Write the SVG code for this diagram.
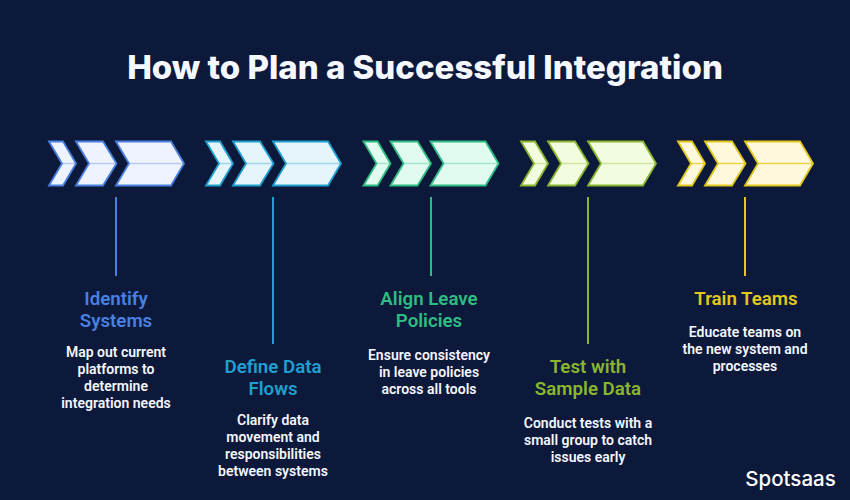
<svg xmlns="http://www.w3.org/2000/svg" width="850" height="500" viewBox="0 0 850 500">
<style>
.title{font:800 33px Inter,"Liberation Sans",sans-serif;fill:#f6f8ff;text-anchor:middle}
.h{font:600 18.700px Roboto,"Liberation Sans",sans-serif;text-anchor:middle}
.b{font:600 14px Roboto,"Liberation Sans",sans-serif;fill:#f4f6fb;text-anchor:middle}
.ch{stroke-width:1.800;stroke-linejoin:miter}
.mid{stroke-width:1.500;opacity:.35;fill:none}
.stem{stroke-width:2;fill:none}
.logo{font:500 20.500px Inter,"Liberation Sans",sans-serif;fill:#fff;text-anchor:middle}
.c1{stroke:#4a80e0;fill:#eef3ff}.t1{fill:#4a80e0}
.c2{stroke:#1f9fd0;fill:#e6f5fc}.t2{fill:#1f9fd0}
.c3{stroke:#2fbc82;fill:#e2fbf0}.t3{fill:#2fbc82}
.c4{stroke:#8ab52e;fill:#f2fde0}.t4{fill:#8ab52e}
.c5{stroke:#e2c81c;fill:#fff8dc}.t5{fill:#e2c81c}
.s1{stroke:#4a80e0}.s2{stroke:#1f9fd0}.s3{stroke:#2fbc82}.s4{stroke:#8ab52e}.s5{stroke:#e2c81c}
</style>
<defs>
<g id="chev">
<polygon points="49,141.500 63,141.500 76,163.500 63,185.500 49,185.500 62,163.500"/>
<polygon points="76,141.500 103,141.500 116.500,163.500 103,185.500 76,185.500 89,163.500"/>
<polygon points="116,141.500 171,141.500 184,163.500 171,185.500 116,185.500 129,163.500"/>
</g>
<g id="mids">
<path d="M62 163.500H76M89 163.500H116.500M129 163.500H184"/>
</g>
</defs>
<rect width="850" height="500" fill="#0c193b"/>
<text class="title" x="425" y="79">How to Plan a Successful Integration</text>
<g id="connectors">
<line class="stem s1" x1="116" y1="197" x2="116" y2="276"/>
<line class="stem s2" x1="273" y1="197" x2="273" y2="344"/>
<line class="stem s3" x1="431" y1="197" x2="431" y2="276"/>
<line class="stem s4" x1="588" y1="197" x2="588" y2="344"/>
<line class="stem s5" x1="745" y1="197" x2="745" y2="276"/>
</g>
<g id="node-1">
<use href="#chev" class="ch c1"/><use href="#mids" class="mid s1"/>
<text class="h t1" x="116" y="305">Identify</text><text class="h t1" x="116" y="327">Systems</text>
<text class="b" x="116" y="357">Map out current</text><text class="b" x="116" y="374">platforms to</text><text class="b" x="116" y="391">determine</text><text class="b" x="116" y="408">integration needs</text>
</g>
<g id="node-2">
<use href="#chev" x="157" class="ch c2"/><use href="#mids" x="157" class="mid s2"/>
<text class="h t2" x="273" y="373">Define Data</text><text class="h t2" x="273" y="395">Flows</text>
<text class="b" x="273" y="425">Clarify data</text><text class="b" x="273" y="442">movement and</text><text class="b" x="273" y="459">responsibilities</text><text class="b" x="273" y="476">between systems</text>
</g>
<g id="node-3">
<use href="#chev" x="314.500" class="ch c3"/><use href="#mids" x="314.500" class="mid s3"/>
<text class="h t3" x="429" y="305">Align Leave</text><text class="h t3" x="429" y="327">Policies</text>
<text class="b" x="429" y="360">Ensure consistency</text><text class="b" x="429" y="377">in leave policies</text><text class="b" x="429" y="394">across all tools</text>
</g>
<g id="node-4">
<use href="#chev" x="472" class="ch c4"/><use href="#mids" x="472" class="mid s4"/>
<text class="h t4" x="588" y="373">Test with</text><text class="h t4" x="588" y="395">Sample Data</text>
<text class="b" x="588" y="428">Conduct tests with a</text><text class="b" x="588" y="445">small group to catch</text><text class="b" x="588" y="462">issues early</text>
</g>
<g id="node-5">
<use href="#chev" x="629" class="ch c5"/><use href="#mids" x="629" class="mid s5" style="opacity:.75"/>
<text class="h t5" x="746" y="305">Train Teams</text>
<text class="b" x="745" y="337">Educate teams on</text><text class="b" x="745" y="354">the new system and</text><text class="b" x="745" y="371">processes</text>
</g>
<text class="logo" x="790.500" y="486">Spotsaas</text>
</svg>
